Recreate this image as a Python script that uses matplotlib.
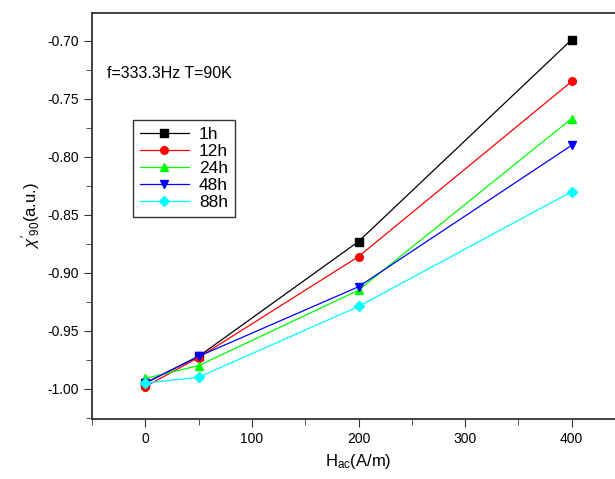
import numpy as np
import matplotlib
matplotlib.use('Agg')
import matplotlib.pyplot as plt
from matplotlib.ticker import MultipleLocator
from matplotlib.transforms import IdentityTransform

plt.rcParams['font.family'] = ['Liberation Sans', 'DejaVu Sans']
plt.rcParams['mathtext.fontset'] = 'custom'
plt.rcParams['mathtext.rm'] = 'Liberation Sans'
plt.rcParams['mathtext.it'] = 'Liberation Sans:italic'

H_AC = [0, 50, 200, 400]
CHI_1H  = [-0.995, -0.972, -0.873, -0.699]
CHI_12H = [-0.998, -0.973, -0.886, -0.735]
CHI_24H = [-0.991, -0.980, -0.915, -0.767]
CHI_48H = [-0.995, -0.972, -0.912, -0.790]
CHI_88H = [-0.995, -0.990, -0.929, -0.830]
LABELS = ['1h', '12h', '24h', '48h', '88h']

W, H = 615, 479
fig = plt.figure(figsize=(W / 100, H / 100), dpi=100)
# axes frame runs past the right edge of the picture, as in the original
ax = fig.add_axes([92 / W, 1 - 419 / H, (625 - 92) / W, (419 - 13) / H])

series = [
    (CHI_1H,  'black',   's'),
    (CHI_12H, '#ff0000', 'o'),
    (CHI_24H, '#00ff00', '^'),
    (CHI_48H, '#0000ff', 'v'),
    (CHI_88H, '#00ffff', 'D'),
]
for (ys, c, m), lab in zip(series, LABELS):
    ax.plot(H_AC, ys, color=c, marker=m, markersize=5.5, lw=0.9, label=lab)

ax.set_xlim(-50, 450)
ax.set_ylim(-1.026, -0.676)
ax.xaxis.set_major_locator(MultipleLocator(100))
ax.xaxis.set_minor_locator(MultipleLocator(50))
ax.yaxis.set_major_locator(MultipleLocator(0.05))
ax.yaxis.set_minor_locator(MultipleLocator(0.025))
ax.yaxis.set_major_formatter(plt.FuncFormatter(lambda v, p: f'{v:.2f}'))
ax.tick_params(which='both', direction='out', labelsize=10, color='#333333')
ax.tick_params(which='major', length=6)
ax.tick_params(which='minor', length=4)
for s in ax.spines.values():
    s.set_linewidth(1.3)
    s.set_color('#333333')
ax.spines['right'].set_visible(False)

ax.set_xlabel(r'H$_\mathrm{ac}$(A/m)', fontsize=12)
ax.set_ylabel(r"$\chi'_\mathrm{90}$(a.u.)", fontsize=12)
t = ax.text(107, H - 73, 'f=333.3Hz T=90K', fontsize=11.5,
            va='center', ha='left')
t.set_transform(IdentityTransform())

leg = ax.legend(loc='upper left',
                bbox_to_anchor=((133 - 92) / (625 - 92), 1 - (120 - 13) / (419 - 13)),
                fontsize=12.5, frameon=True, fancybox=False, borderaxespad=0,
                handlelength=2.8, labelspacing=0.1, handletextpad=0.6,
                borderpad=0.4)
leg.get_frame().set_edgecolor('black')
leg.get_frame().set_linewidth(1.0)

fig.savefig('out.png', dpi=100)
